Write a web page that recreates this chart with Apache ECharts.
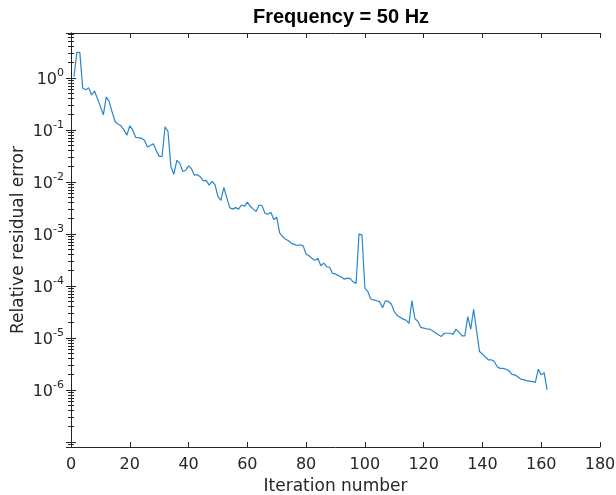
<!DOCTYPE html>
<html>
<head>
<meta charset="utf-8">
<script src="https://cdn.jsdelivr.net/npm/echarts@6/dist/echarts.min.js"></script>
<style>
  html, body { margin: 0; padding: 0; background: #fff; }
  #chart { width: 616px; height: 495px; }
</style>
</head>
<body>
<div id="chart"></div>
<script>
// iteration numbers
var iterations = [];
for (var i = 1; i <= 162; i++) iterations.push(i);

// relative residual error
var residual = [
  1.05, 3.1, 3.1, 0.63, 0.59, 0.65, 0.47, 0.56, 0.40, 0.28,
  0.195, 0.43, 0.35, 0.22, 0.145, 0.13, 0.12, 0.10, 0.079, 0.12,
  0.10, 0.072, 0.071, 0.069, 0.063, 0.047, 0.05, 0.054, 0.04, 0.031,
  0.031, 0.115, 0.093, 0.0195, 0.014, 0.026, 0.023, 0.016, 0.0166, 0.0204,
  0.018, 0.0135, 0.0138, 0.0126, 0.0105, 0.0107, 0.0087, 0.0102, 0.0089, 0.0052,
  0.0044, 0.0078, 0.005, 0.0032, 0.003, 0.0032, 0.003, 0.0036, 0.0034, 0.0041,
  0.0034, 0.003, 0.0027, 0.0036, 0.0035, 0.0025, 0.0024, 0.0026, 0.0019, 0.0021,
  0.00105, 0.00089, 0.00079, 0.00074, 0.00066, 0.00063, 0.0006, 0.00062, 0.00059, 0.00041,
  0.00038, 0.00034, 0.00031, 0.00034, 0.000245, 0.000275, 0.000234, 0.000229, 0.000174, 0.00017,
  0.000158, 0.000148, 0.000135, 0.000141, 0.000138, 0.00012, 0.000112, 0.001, 0.00095, 9.1e-5,
  7.8e-5, 5.6e-5, 5.4e-5, 5.2e-5, 5.0e-5, 3.8e-5, 5.2e-5, 5.0e-5, 4.5e-5, 3.2e-5,
  2.7e-5, 2.5e-5, 2.3e-5, 2.2e-5, 1.9e-5, 5.2e-5, 2.35e-5, 2.1e-5, 1.6e-5, 1.55e-5,
  1.5e-5, 1.48e-5, 1.38e-5, 1.26e-5, 1.15e-5, 1.07e-5, 1.23e-5, 1.23e-5, 1.23e-5, 1.17e-5,
  1.48e-5, 1.29e-5, 1.1e-5, 1.1e-5, 2.57e-5, 1.48e-5, 3.55e-5, 1.38e-5, 5.5e-6, 4.9e-6,
  4.3e-6, 3.8e-6, 3.8e-6, 3.55e-6, 2.8e-6, 2.6e-6, 2.6e-6, 2.5e-6, 2.35e-6, 2.0e-6,
  1.95e-6, 1.8e-6, 1.62e-6, 1.58e-6, 1.51e-6, 1.48e-6, 1.45e-6, 1.4e-6, 2.5e-6, 1.95e-6,
  2.15e-6, 1.0e-6
];

var xTicks = [0, 180, 20];        // min, max, step
var yRange = [8e-8, 7.3];
var yLabelExps = [-6, -5, -4, -3, -2, -1, 0];   // labelled decades

var axisColor = '#262626';
var chart = echarts.init(document.getElementById('chart'));

var data = iterations.map(function (it, k) { return [it, residual[k]]; });

function expLabel(v) {
  var e = Math.round(Math.log10(v));
  if (Math.abs(Math.log10(v) - e) > 1e-6) return '';
  if (yLabelExps.indexOf(e) < 0) return '';
  return '{b|10}{s|' + e + '}';
}

var yCommon = {
  type: 'log',
  logBase: 10,
  min: yRange[0],
  max: yRange[1],
  axisLine: { show: true, lineStyle: { color: axisColor, width: 1 } },
  axisTick: { show: true, inside: true, length: 5, lineStyle: { color: axisColor } },
  minorTick: { show: true, splitNumber: 9, length: 3, lineStyle: { color: axisColor } },
  splitLine: { show: false },
  minorSplitLine: { show: false }
};

var option = {
  animation: false,
  title: {
    text: 'Frequency = 50 Hz',
    left: 336,
    textAlign: 'center',
    top: 2,
    textStyle: { fontFamily: 'Liberation Sans', fontWeight: 'bold', fontSize: 20, color: '#000' }
  },
  grid: { left: 71, right: 16, top: 33, bottom: 48, containLabel: false, outerBoundsMode: 'none' },
  xAxis: [{
    type: 'value',
    min: xTicks[0], max: xTicks[1], interval: xTicks[2],
    name: 'Iteration number',
    nameLocation: 'middle',
    nameGap: 31,
    nameMoveOverlap: false,
    nameTextStyle: { fontFamily: 'DejaVu Sans', fontSize: 17, color: axisColor },
    axisLine: { show: true, lineStyle: { color: axisColor } },
    axisTick: { show: true, inside: true, length: 5, lineStyle: { color: axisColor } },
    axisLabel: { fontFamily: 'DejaVu Sans', fontSize: 16, color: axisColor, margin: 10 },
    splitLine: { show: false }
  }, {
    type: 'value',
    position: 'top',
    min: xTicks[0], max: xTicks[1], interval: xTicks[2],
    axisLine: { show: true, lineStyle: { color: axisColor } },
    axisTick: { show: true, inside: true, length: 5, lineStyle: { color: axisColor } },
    axisLabel: { show: false },
    splitLine: { show: false }
  }],
  yAxis: [Object.assign({}, yCommon, {
    position: 'left',
    name: 'Relative residual error',
    nameLocation: 'middle',
    nameGap: 44,
    nameMoveOverlap: false,
    nameTextStyle: { fontFamily: 'DejaVu Sans', fontSize: 17, color: axisColor },
    axisLabel: {
      showMinLabel: false,
      showMaxLabel: false,
      margin: 7,
      color: axisColor,
      formatter: expLabel,
      rich: {
        b: { fontFamily: 'DejaVu Sans', fontSize: 16, color: axisColor, padding: [4, 0, 0, 0] },
        s: { fontFamily: 'DejaVu Sans', fontSize: 11, color: axisColor, verticalAlign: 'top' }
      }
    }
  }), Object.assign({}, yCommon, {
    position: 'right',
    axisLabel: { show: false }
  })],
  series: [{
    type: 'line',
    xAxisIndex: 0,
    yAxisIndex: 0,
    data: data,
    showSymbol: false,
    symbol: 'none',
    lineStyle: { color: '#2a86cc', width: 1.2 },
    itemStyle: { color: '#2a86cc' }
  }]
};

chart.setOption(option);
</script>
</body>
</html>
